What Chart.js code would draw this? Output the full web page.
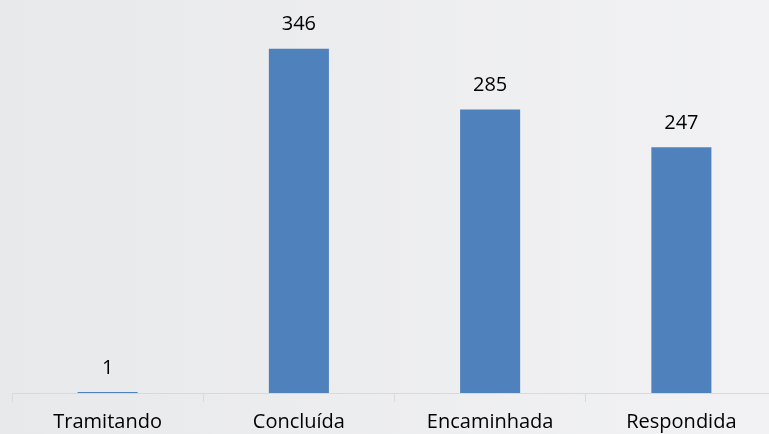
<!DOCTYPE html>
<html lang="pt">
<head>
    <meta charset="UTF-8">
    <title>Situação das manifestações</title>
    <script src="https://cdn.jsdelivr.net/npm/chart.js@4/dist/chart.umd.min.js"></script>
    <style>
        html, body { margin: 0; padding: 0; overflow: hidden; }
        body {
            width: 769px; height: 434px;
            background: linear-gradient(to right, #e8e9eb, #f2f2f4);
        }
        #wrap { position: absolute; left: 0; top: 0; width: 777px; height: 442px; }
    </style>
</head>
<body>
    <div id="wrap"><canvas id="chart"></canvas></div>

    <script>
        // Chart data
        const categories = ['Tramitando', 'Concluída', 'Encaminhada', 'Respondida'];
        const totals = [1, 346, 285, 247];

        // Value labels above each bar
        const valueLabels = {
            id: 'valueLabels',
            afterDatasetsDraw(chart) {
                const ctx = chart.ctx;
                ctx.save();
                ctx.font = '20px "Open Sans"';
                ctx.fillStyle = '#000';
                ctx.textAlign = 'center';
                ctx.textBaseline = 'middle';
                chart.getDatasetMeta(0).data.forEach((bar, i) => {
                    ctx.fillText(totals[i], bar.x, bar.y - 24);
                });
                ctx.restore();
            }
        };

        new Chart(document.getElementById('chart'), {
            type: 'bar',
            data: {
                labels: categories,
                datasets: [{
                    data: totals,
                    backgroundColor: '#4f81bd',
                    barPercentage: 0.314,
                    categoryPercentage: 1
                }]
            },
            options: {
                responsive: true,
                maintainAspectRatio: false,
                animation: false,
                layout: { padding: { left: 12, right: 0, top: 0, bottom: 0 } },
                plugins: { legend: { display: false }, tooltip: { enabled: false } },
                scales: {
                    x: {
                        offset: true,
                        grid: {
                            offset: true,
                            drawOnChartArea: false,
                            tickLength: 9,
                            color: '#d9d9d9'
                        },
                        border: { color: '#d9d9d9', width: 1 },
                        ticks: {
                            color: '#000',
                            font: { family: 'Open Sans', size: 20 },
                            padding: 8,
                            maxRotation: 0
                        }
                    },
                    y: {
                        display: false,
                        min: 0,
                        max: 395
                    }
                }
            },
            plugins: [valueLabels]
        });
    </script>
</body>
</html>
